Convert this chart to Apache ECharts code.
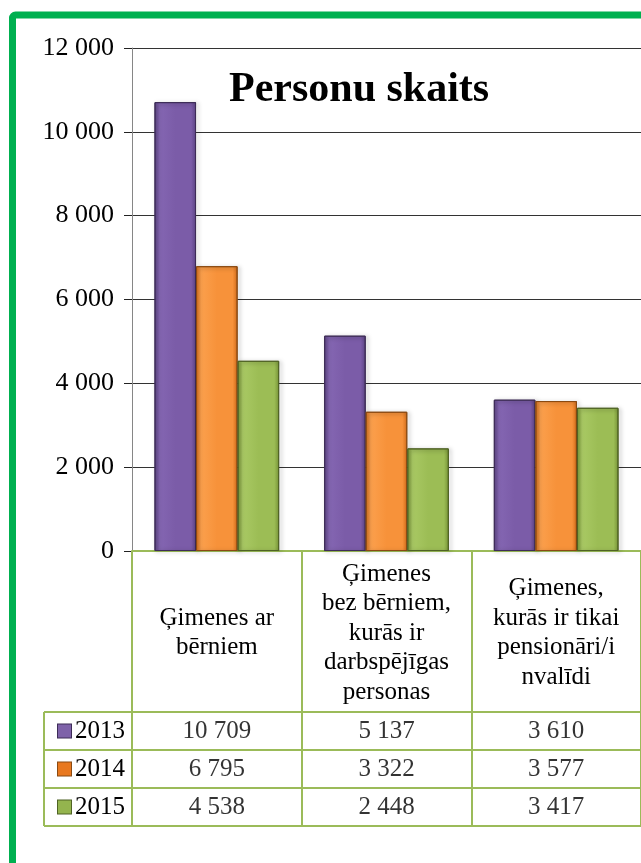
<!DOCTYPE html>
<html>
<head>
<meta charset="utf-8">
<script src="https://cdn.jsdelivr.net/npm/echarts@6/dist/echarts.min.js"></script>
<style>
html,body{margin:0;padding:0;background:#fff;}
#c{width:641px;height:863px;}
</style>
</head>
<body>
<div id="c"></div>
<script>
// ---- data ----
var categories = [
  'Ģimenes ar\nbērniem',
  'Ģimenes\nbez bērniem,\nkurās ir\ndarbspējīgas\npersonas',
  'Ģimenes,\nkurās ir tikai\npensionāri/i\nnvalīdi'
];
var years = ['2013', '2014', '2015'];
var values2013 = [10709, 5137, 3610];
var values2014 = [6795, 3322, 3577];
var values2015 = [4538, 2448, 3417];
var yTicks = [0, 2000, 4000, 6000, 8000, 10000, 12000];
var titleText = 'Personu skaits';

// ---- style ----
var FONT = 'Liberation Serif';
var GREEN = '#9bbb59';
var palette = [
  {edge:'#5f4687', mid:'#8466b2', body:'#7b5ca8', border:'#3d2c57', icon:'#7e62a9'},
  {edge:'#d8701c', mid:'#fba04d', body:'#f7923a', border:'#8a4a12', icon:'#e8781f'},
  {edge:'#7a9838', mid:'#a9c964', body:'#9cbd55', border:'#4f6324', icon:'#94b44e'}
];
function fmt(n){ return String(n).replace(/\B(?=(\d{3})+(?!\d))/g, ' '); }
function grad(p){
  return new echarts.graphic.LinearGradient(0,0,1,0,[
    {offset:0, color:p.edge},
    {offset:0.12, color:p.mid},
    {offset:0.5, color:p.body},
    {offset:0.88, color:p.body},
    {offset:1, color:p.edge}
  ]);
}

var G = {left:132, top:48, width:515, height:503};
var T = {top:712, rowH:38, left:44};
var TS = {fontFamily:FONT, fontSize:25, fontWeight:'normal', fontStyle:'normal', color:'#000'};

var seriesData = [values2013, values2014, values2015];
var series = seriesData.map(function(vals, i){
  return {
    name: years[i], type:'bar', xAxisIndex:0, yAxisIndex:0,
    data: vals,
    barGap: '0%', barCategoryGap: '26.5%',
    itemStyle: {
      color: grad(palette[i]), borderColor: palette[i].border, borderWidth: 1,
      shadowColor:'rgba(0,0,0,0.35)', shadowBlur:4, shadowOffsetX:2, shadowOffsetY:1
    },
    silent: true
  };
});

// table cell labels
var tableData = [];
seriesData.forEach(function(vals, r){
  vals.forEach(function(v, c){ tableData.push([c, r, v]); });
});
series.push({
  type:'scatter', xAxisIndex:1, yAxisIndex:1, symbolSize:1,
  itemStyle:{color:'rgba(0,0,0,0)'},
  data: tableData,
  label:Object.assign({show:true, position:'inside',
    formatter:function(p){ return fmt(p.value[2]); }}, TS),
  silent:true
});

var rich = {t:Object.assign({padding:[0,0,0,4]}, TS)};
palette.forEach(function(p, i){
  rich['i'+i] = {width:13, height:13, backgroundColor:p.icon, borderColor:p.border, borderWidth:1};
});

var chart = echarts.init(document.getElementById('c'), null, {renderer:'canvas'});
var option = {
  animation:false,
  backgroundColor:'#fff',
  textStyle:{fontFamily:FONT},
  title:{
    text:titleText, left:224, top:64,
    textStyle:{fontFamily:FONT, fontSize:42, fontWeight:'bold', color:'#000'}
  },
  grid:[
    {left:G.left, top:G.top, width:G.width, height:G.height, containLabel:false},
    {left:G.left, top:T.top, width:G.width, height:T.rowH*3, containLabel:false}
  ],
  xAxis:[
    {type:'category', gridIndex:0, data:categories,
      axisLine:{show:true, lineStyle:{color:GREEN, width:2}},
      axisTick:{show:true, interval:0, length:T.top + T.rowH*3 - (G.top+G.height), lineStyle:{color:GREEN, width:2}},
      axisLabel:Object.assign({interval:0, margin:82, verticalAlign:'middle', align:'center', lineHeight:29.5}, TS),
      splitLine:{show:false}
    },
    {type:'category', gridIndex:1, data:categories, show:false}
  ],
  yAxis:[
    {type:'value', gridIndex:0, min:0, max:12000, interval:2000,
      axisLine:{show:true, lineStyle:{color:'#868686', width:1}},
      axisTick:{show:true, length:8, lineStyle:{color:'#222'}},
      axisLabel:Object.assign({margin:18,
        formatter:function(v){ return yTicks.indexOf(v) >= 0 ? fmt(v) : ''; }}, TS, {fontSize:26}),
      splitLine:{show:true, lineStyle:{color:'#333', width:1}}
    },
    {type:'category', gridIndex:1, data:years, inverse:true,
      axisLine:{show:false}, axisTick:{show:false}, splitLine:{show:false},
      axisLabel:Object.assign({margin:7, formatter:function(v, i){ return '{i'+i+'|}{t|'+v+'}'; }, rich:rich}, TS)
    }
  ],
  series: series
};
chart.setOption(option);

// table borders (horizontal lines across rows, left edge of legend column)
var right = chart.convertToPixel({xAxisIndex:0}, 2) + (chart.convertToPixel({xAxisIndex:0}, 2) - chart.convertToPixel({xAxisIndex:0}, 1)) / 2;
var graphics = [];
for (var r = 0; r <= years.length; r++) {
  var y = T.top + r*T.rowH;
  graphics.push({type:'line', shape:{x1:T.left, y1:y, x2:right+2, y2:y}, style:{stroke:GREEN, lineWidth:2}, silent:true});
}
graphics.push({type:'line', shape:{x1:T.left, y1:T.top, x2:T.left, y2:T.top+T.rowH*years.length}, style:{stroke:GREEN, lineWidth:2}, silent:true});
// page frame
graphics.push({type:'rect', shape:{x:12.5, y:15, width:720, height:900, r:3}, style:{fill:null, stroke:'#00b050', lineWidth:7}, silent:true, z:100});
chart.setOption({graphic:graphics});
</script>
</body>
</html>
